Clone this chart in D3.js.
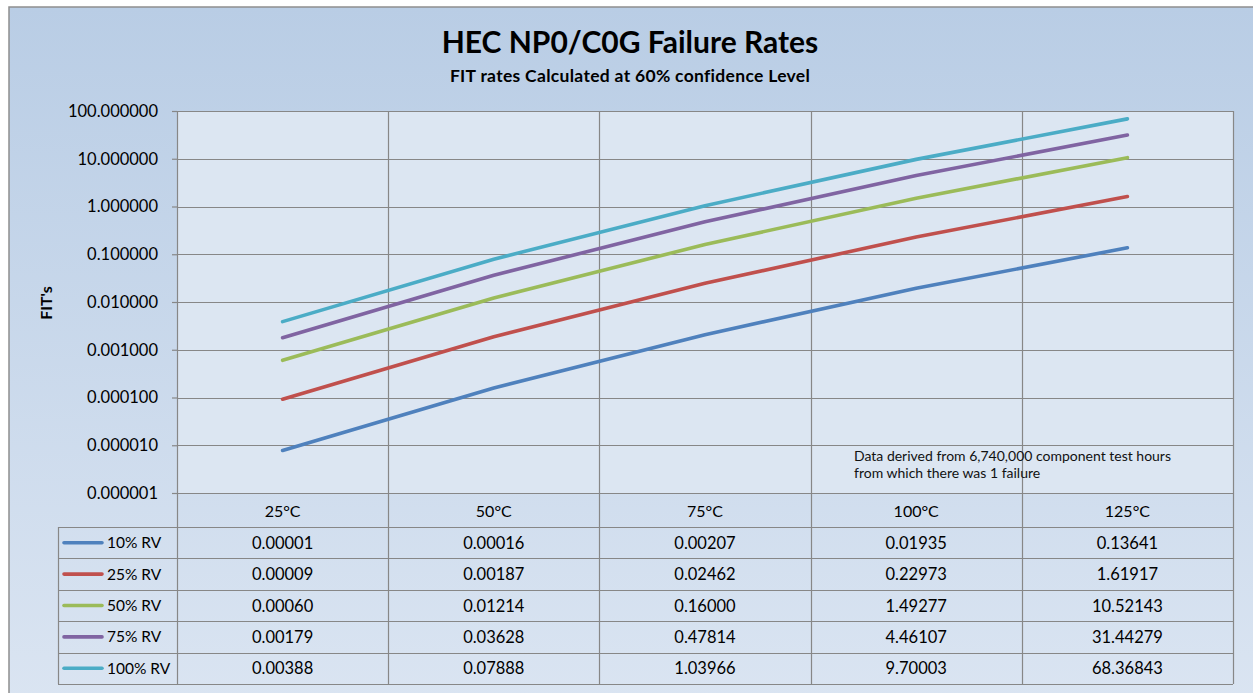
<!DOCTYPE html>
<html>
<head>
<meta charset="utf-8">
<script src="https://cdn.jsdelivr.net/npm/d3@7"></script>
<style>
  html, body { margin: 0; padding: 0; background: #fff; }
  svg { display: block; font-family: Lato, "Open Sans", sans-serif; }
</style>
</head>
<body>
<svg id="chart" width="1253" height="693"></svg>
<script>
(() => {
    // categories and series (plotted FIT values, table shows 5 decimals)
    const temps = ['25°C', '50°C', '75°C', '100°C', '125°C'];
    const seriesNames = ['10% RV', '25% RV', '50% RV', '75% RV', '100% RV'];
    const colors = ['#4f81bd', '#c0504d', '#9bbb59', '#8064a2', '#4bacc6'];
    const rv10 = [0.0000078, 0.000158, 0.00207, 0.01935, 0.13641];
    const rv25 = [0.0000923, 0.00187, 0.02462, 0.22973, 1.61917];
    const rv50 = [0.00060, 0.01214, 0.16000, 1.49277, 10.52143];
    const rv75 = [0.00179, 0.03628, 0.47814, 4.46107, 31.44279];
    const rv100 = [0.00388, 0.07888, 1.03966, 9.70003, 68.36843];
    const yTicks = [0.000001, 0.00001, 0.0001, 0.001, 0.01, 0.1, 1, 10, 100];

    const series = [rv10, rv25, rv50, rv75, rv100].map((vals, i) => ({
        name: seriesNames[i], color: colors[i], values: vals
    }));

    const svg = d3.select('#chart');

    // chart background
    const defs = svg.append('defs');
    const grad = defs.append('linearGradient')
        .attr('id', 'bg').attr('x1', 0).attr('y1', 0).attr('x2', 0).attr('y2', 1);
    grad.append('stop').attr('offset', '0%').attr('stop-color', '#b9cde5');
    grad.append('stop').attr('offset', '100%').attr('stop-color', '#dbe5f2');

    svg.append('rect')
        .attr('x', 9).attr('y', 7).attr('width', 1270).attr('height', 710)
        .attr('fill', 'url(#bg)')
        .attr('stroke', '#8e8e8e').attr('stroke-width', 1.5);

    // plot area
    const left = 177, right = 1233, top = 111, bottom = 493;

    const x = d3.scaleBand().domain(temps).range([left, right]);
    const y = d3.scaleLog().domain([0.000001, 100]).range([bottom, top]);

    svg.append('rect')
        .attr('x', left).attr('y', top)
        .attr('width', right - left).attr('height', bottom - top)
        .attr('fill', '#dce6f2');

    // gridlines
    const grid = svg.append('g').attr('stroke', '#878787').attr('stroke-width', 1.2);
    grid.selectAll('line.h')
        .data(yTicks)
        .join('line')
        .attr('class', 'h')
        .attr('x1', left).attr('x2', right)
        .attr('y1', d => Math.round(y(d)) + 0.5)
        .attr('y2', d => Math.round(y(d)) + 0.5);

    const rowsTop = 527, rowH = 31.4;
    const tableBottom = rowsTop + rowH * seriesNames.length;
    const edges = temps.map(t => x(t)).concat([right]);

    grid.selectAll('line.v')
        .data(edges)
        .join('line')
        .attr('class', 'v')
        .attr('x1', d => Math.round(d) + 0.5).attr('x2', d => Math.round(d) + 0.5)
        .attr('y1', top).attr('y2', tableBottom);

    // y axis
    const yAxis = d3.axisLeft(y)
        .tickValues(yTicks)
        .tickFormat(d => d.toFixed(6))
        .tickSize(5)
        .tickSizeOuter(0)
        .tickPadding(14);

    const ay = svg.append('g')
        .attr('transform', `translate(${left},0)`)
        .call(yAxis);
    ay.select('.domain').remove();
    ay.selectAll('.tick line').attr('stroke', '#878787').attr('stroke-width', 1.2);
    ay.selectAll('.tick text')
        .attr('fill', '#000')
        .style('font-size', '16.5px')
        .style('font-family', 'Lato, sans-serif');

    svg.append('text')
        .attr('transform', 'translate(52,303) rotate(-90)')
        .attr('text-anchor', 'middle')
        .style('font-size', '16px')
        .style('font-weight', 'bold')
        .text("FIT's");

    // lines
    const line = d3.line()
        .x((d, i) => x(temps[i]) + x.bandwidth() / 2)
        .y(d => y(d));

    svg.append('g')
        .selectAll('path')
        .data(series)
        .join('path')
        .attr('d', d => line(d.values))
        .attr('fill', 'none')
        .attr('stroke', d => d.color)
        .attr('stroke-width', 3.6)
        .attr('stroke-linecap', 'round')
        .attr('stroke-linejoin', 'round');

    // note
    const note = svg.append('text')
        .style('font-size', '14px')
        .attr('fill', '#111');
    note.append('tspan').attr('x', 854).attr('y', 461)
        .text('Data derived from  6,740,000 component test hours');
    note.append('tspan').attr('x', 854).attr('y', 478)
        .text('from which there was  1 failure');

    // category header
    svg.append('g')
        .selectAll('text')
        .data(temps)
        .join('text')
        .attr('x', d => x(d) + x.bandwidth() / 2)
        .attr('y', 517)
        .attr('text-anchor', 'middle')
        .style('font-size', '16px')
        .text(d => d);

    // data table
    const tleft = 58;
    const tg = svg.append('g').attr('stroke', '#878787').attr('stroke-width', 1.2);
    tg.selectAll('line.r')
        .data(d3.range(seriesNames.length + 1))
        .join('line')
        .attr('class', 'r')
        .attr('x1', tleft).attr('x2', right)
        .attr('y1', i => Math.round(rowsTop + i * rowH) + 0.5)
        .attr('y2', i => Math.round(rowsTop + i * rowH) + 0.5);
    tg.append('line')
        .attr('x1', tleft + 0.5).attr('x2', tleft + 0.5)
        .attr('y1', rowsTop).attr('y2', tableBottom);

    const rows = svg.append('g')
        .selectAll('g')
        .data(series)
        .join('g')
        .attr('transform', (d, i) => `translate(0,${rowsTop + i * rowH + rowH / 2})`);

    rows.append('line')
        .attr('x1', 64).attr('x2', 102)
        .attr('stroke', d => d.color)
        .attr('stroke-width', 3.6)
        .attr('stroke-linecap', 'round');

    rows.append('text')
        .attr('x', 107).attr('y', 5.5)
        .style('font-size', '15.5px')
        .text(d => d.name);

    rows.selectAll('text.v')
        .data(d => d.values)
        .join('text')
        .attr('class', 'v')
        .attr('x', (d, i) => x(temps[i]) + x.bandwidth() / 2)
        .attr('y', 6)
        .attr('text-anchor', 'middle')
        .style('font-size', '16.5px')
        .text(d => d.toFixed(5));

    // titles
    svg.append('text')
        .attr('x', 630).attr('y', 53)
        .attr('text-anchor', 'middle')
        .style('font-size', '30px')
        .style('font-weight', 'bold')
        .text('HEC NP0/C0G Failure Rates');

    svg.append('text')
        .attr('x', 630).attr('y', 82)
        .attr('text-anchor', 'middle')
        .style('font-size', '17.5px')
        .style('font-weight', 'bold')
        .style('letter-spacing', '0.3px')
        .text('FIT rates Calculated at 60% confidence Level');
})();
</script>
</body>
</html>
